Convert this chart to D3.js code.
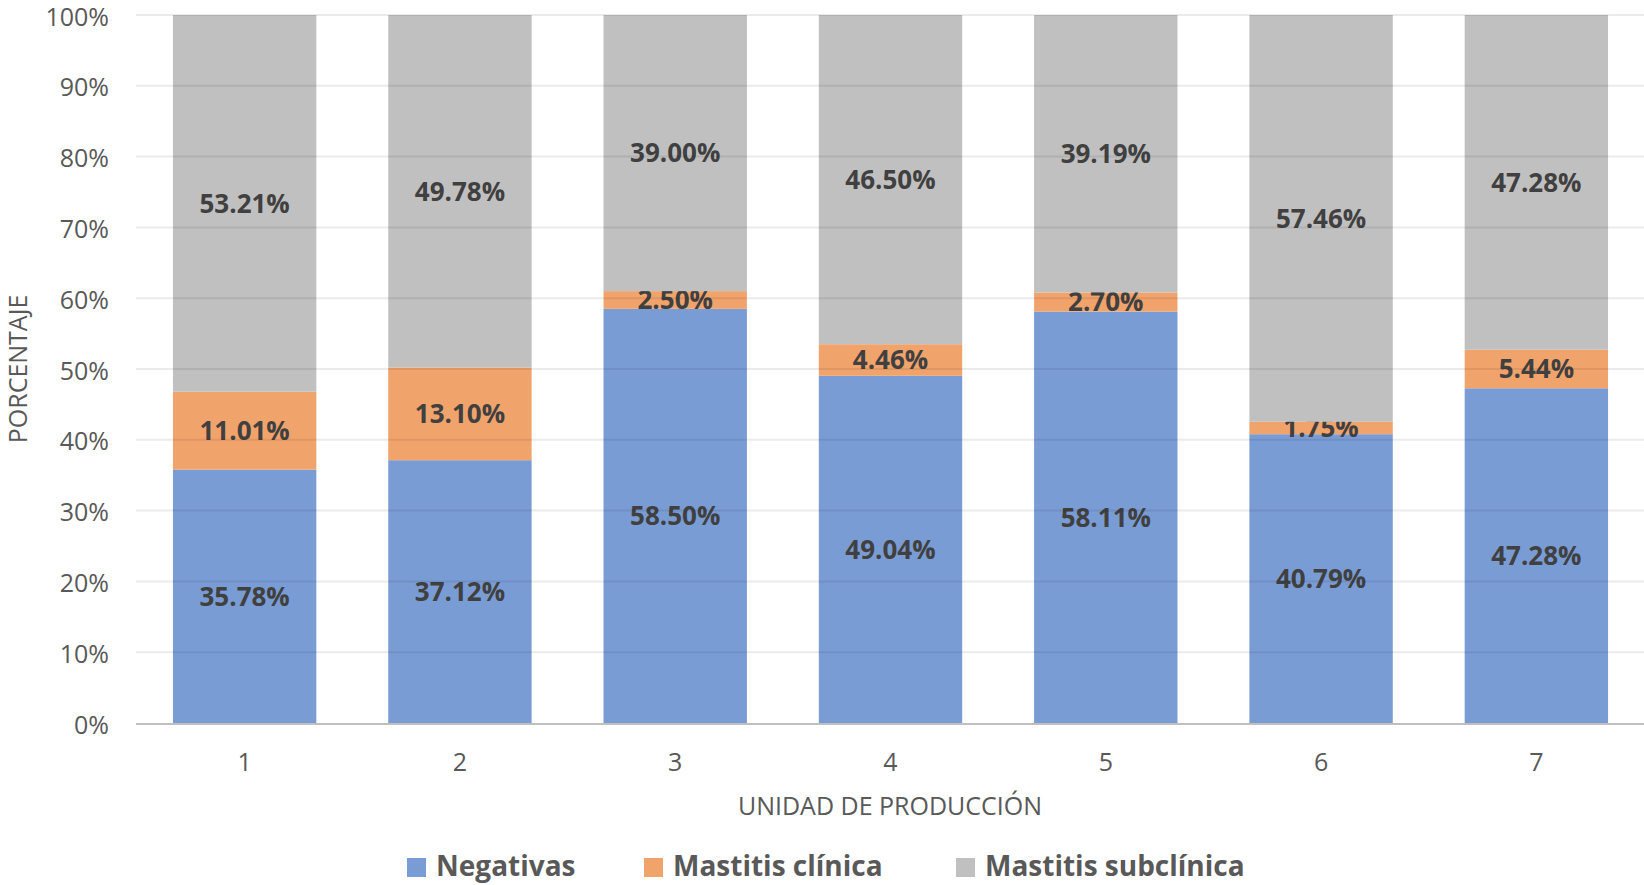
<!DOCTYPE html>
<html>
<head>
<meta charset="utf-8">
<script src="https://cdn.jsdelivr.net/npm/d3@7"></script>
<style>
  html, body { margin: 0; padding: 0; background: #fff; }
  svg { display: block; font-family: "Open Sans", sans-serif; }
</style>
</head>
<body>
<svg id="chart" width="1644" height="885"></svg>
<script>
const categories = ["1", "2", "3", "4", "5", "6", "7"];
const seriesNames = ["Negativas", "Mastitis clínica", "Mastitis subclínica"];
const negativas = [35.78, 37.12, 58.50, 49.04, 58.11, 40.79, 47.28];
const mastitisClinica = [11.01, 13.10, 2.50, 4.46, 2.70, 1.75, 5.44];
const mastitisSubclinica = [53.21, 49.78, 39.00, 46.50, 39.19, 57.46, 47.28];
const yTicks = [0, 10, 20, 30, 40, 50, 60, 70, 80, 90, 100];
const colors = ["#7A9CD5", "#F1A36C", "#C0C0C0"];

const svg = d3.select("#chart");
const margin = { left: 136, right: 0, top: 15, bottom: 162 };
const W = 1644, H = 885;
const x = d3.scaleBand().domain(categories)
  .range([margin.left + 1, W - margin.right])
  .paddingInner(0.334).paddingOuter(0.167);
const y = d3.scaleLinear().domain([0, 100]).range([H - margin.bottom, margin.top]);

const rows = categories.map((c, i) => ({
  cat: c,
  "Negativas": negativas[i],
  "Mastitis clínica": mastitisClinica[i],
  "Mastitis subclínica": mastitisSubclinica[i]
}));
const stacked = d3.stack().keys(seriesNames)(rows);

// bars
const layers = svg.append("g").selectAll("g").data(stacked).join("g")
  .attr("fill", (d, i) => colors[i]);
layers.selectAll("rect").data(d => d).join("rect")
  .attr("x", d => x(d.data.cat))
  .attr("width", x.bandwidth())
  .attr("y", d => y(d[1]))
  .attr("height", d => y(d[0]) - y(d[1]));

// gridlines (drawn on top, translucent)
const grid = svg.append("g");
grid.selectAll("line").data(yTicks.filter(t => t > 0)).join("line")
  .attr("x1", margin.left).attr("x2", W)
  .attr("y1", d => y(d)).attr("y2", d => y(d))
  .attr("stroke", "rgba(0,0,0,0.08)").attr("stroke-width", 2);

// baseline
svg.append("line")
  .attr("x1", margin.left).attr("x2", W)
  .attr("y1", y(0) + 1).attr("y2", y(0) + 1)
  .attr("stroke", "#BFBFBF").attr("stroke-width", 2);

// y axis labels
const yAxis = d3.axisLeft(y).tickValues(yTicks).tickFormat(d => d + "%").tickSize(0).tickPadding(0);
const yg = svg.append("g").attr("transform", `translate(${margin.left - 27},0)`).call(yAxis);
yg.select(".domain").remove();
yg.selectAll("text").attr("font-size", 25).attr("fill", "#595959")
  .attr("font-family", "'Open Sans', sans-serif").attr("dy", "0.4em");

// x axis labels
const xAxis = d3.axisBottom(x).tickSize(0).tickPadding(0);
const xg = svg.append("g").attr("transform", `translate(0,${y(0) + 30})`).call(xAxis);
xg.select(".domain").remove();
xg.selectAll("text").attr("font-size", 25).attr("fill", "#595959")
  .attr("font-family", "'Open Sans', sans-serif").attr("dy", "0.71em");

// data labels
layers.selectAll("text").data(d => d).join("text")
  .attr("x", d => x(d.data.cat) + x.bandwidth() / 2)
  .attr("y", d => y((d[0] + d[1]) / 2))
  .attr("dy", "0.36em")
  .attr("text-anchor", "middle")
  .attr("font-size", 26).attr("font-weight", "bold").attr("fill", "#404040")
  .text(d => (d[1] - d[0]).toFixed(2) + "%");

// axis titles
svg.append("text")
  .attr("transform", `translate(27,${(y(0) + y(100)) / 2}) rotate(-90)`)
  .attr("text-anchor", "middle")
  .attr("font-size", 25).attr("fill", "#595959")
  .text("PORCENTAJE");
svg.append("text")
  .attr("x", (margin.left + W) / 2).attr("y", 815)
  .attr("text-anchor", "middle")
  .attr("font-size", 25).attr("fill", "#595959")
  .text("UNIDAD DE PRODUCCIÓN");

// legend
const legendX = [407, 644, 956];
const lg = svg.append("g").selectAll("g").data(seriesNames).join("g")
  .attr("transform", (d, i) => `translate(${legendX[i]},0)`);
lg.append("rect").attr("x", 0).attr("y", 858).attr("width", 19).attr("height", 19)
  .attr("fill", (d, i) => colors[i]);
lg.append("text").attr("x", 29).attr("y", 876)
  .attr("font-size", 28).attr("font-weight", "bold").attr("fill", "#595959")
  .text(d => d);
</script>
</body>
</html>
